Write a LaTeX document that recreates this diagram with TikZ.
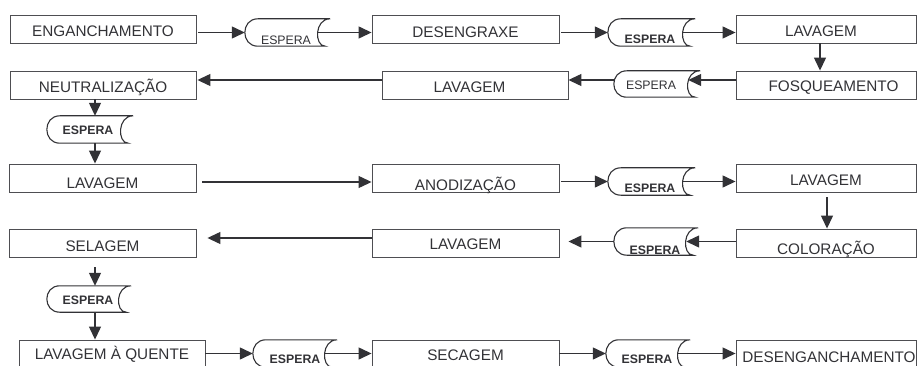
\documentclass[tikz,border=0pt]{standalone}
\usepackage{fontspec}
\setmainfont{Liberation Sans}
\usetikzlibrary{arrows.meta,calc}
\definecolor{ink}{RGB}{50,50,54}
\definecolor{rim}{RGB}{78,78,82}
\tikzset{
  stage/.style={draw=rim, line width=0.9pt, minimum width=#1, minimum height=28pt,
    inner sep=0pt, text=ink, font=\fontsize{15.3}{18}\selectfont, text depth=0pt},
  cap/.style={text height=#1},
  wait/.style={minimum width=#1, inner sep=0pt, text=ink,
    font=\fontsize{12.3}{14}\selectfont\bfseries, text depth=0pt},
  thin/.style={font=\fontsize{12.3}{14}\selectfont},
  waitrim/.style={draw=ink, line width=1.1pt},
  flow/.style={draw=ink, line width=1.3pt, -{Triangle[length=13pt,width=12pt]}}
}
\begin{document}
\begin{tikzpicture}[x=1pt,y=-1pt]
\useasboundingbox (0,0) rectangle (917,366);
\clip (0,0) rectangle (917,366);

% process stages
\node[stage=186, cap=15.3pt] (b1)  at (103,29)    {ENGANCHAMENTO};
\node[stage=187, cap=16.7pt] (b2)  at (465.5,29)  {DESENGRAXE};
\node[stage=180, cap=15.7pt] (b3)  at (826,29)    {LAVAGEM\hspace*{10pt}};
\node[stage=180, cap=13.7pt] (b4)  at (826,85)    {\hspace*{15pt}FOSQUEAMENTO};
\node[stage=186, cap=14.7pt] (b5)  at (475,85)    {LAVAGEM\hspace*{11pt}};
\node[stage=186, cap=15.1pt] (b6)  at (103,85)    {NEUTRALIZAÇÃO};
\node[stage=187, cap=21.7pt] (b7)  at (102.5,178) {LAVAGEM};
\node[stage=187, cap=24.7pt] (b8)  at (465.5,178) {ANODIZAÇÃO};
\node[stage=180, cap=14.7pt] (b9)  at (826,178)   {LAVAGEM};
\node[stage=180, cap=23.7pt] (b10) at (826,243)   {COLORAÇÃO};
\node[stage=187, cap=13.7pt] (b11) at (465.5,243) {LAVAGEM};
\node[stage=187, cap=16.7pt] (b12) at (102.5,243) {SELAGEM};
\node[stage=186, cap=10.7pt] (b13) at (112,354)   {LAVAGEM À QUENTE};
\node[stage=187, cap=12.7pt] (b14) at (465.5,354) {SECAGEM};
\node[stage=180, cap=16.7pt] (b15) at (826,354)   {\hspace*{6pt}DESENGANCHAMENTO};

% waiting steps (node box runs from the left edge to the inner point of the concave side)
\node[wait=73, minimum height=27pt, thin, cap=23.6pt] (e1) at (281.5,32.5) {\hspace*{9pt}ESPERA};
\node[wait=75, minimum height=27pt, cap=23pt]         (e2) at (645.5,32.5) {\hspace*{9pt}ESPERA};
\node[wait=74, minimum height=26pt, thin, cap=11pt]   (e3) at (651,84)     {ESPERA};
\node[wait=74, minimum height=27pt, cap=9.6pt]        (e4) at (84,129.5)   {\hspace*{8pt}ESPERA};
\node[wait=75, minimum height=27pt, cap=21.2pt]       (e5) at (645.5,181.5){\hspace*{9pt}ESPERA};
\node[wait=72, minimum height=27pt, cap=25pt]         (e6) at (650,241.5)  {\hspace*{10pt}ESPERA};
\node[wait=72, minimum height=26pt, cap=10.6pt]       (e7) at (83,299)     {\hspace*{10pt}ESPERA};
\node[wait=72, minimum height=27pt, cap=20.6pt]       (e8) at (289,353.5)  {\hspace*{12pt}ESPERA};
\node[wait=72, minimum height=27pt, cap=20.6pt]       (e9) at (642,353.5)  {\hspace*{10pt}ESPERA};

% outline of each waiting step: convex left side, concave right side
\foreach \n in {e1,e2,e3,e4,e5,e6,e7,e8,e9}{
  \draw[waitrim] ($(\n.north west)+(13,0)$) -- ($(\n.north east)+(12,0)$)
    .. controls ($(\n.north east)+(-4,0)$) and ($(\n.south east)+(-4,0)$) .. ($(\n.south east)+(7,0)$)
    -- ($(\n.south west)+(13,0)$)
    .. controls ($(\n.south west)+(-4.3,0)$) and ($(\n.north west)+(-4.3,0)$) .. cycle;
}

% row 1
\draw[flow, shorten <=2pt] (b1.east |- e1.west) -- (e1.west);
\draw[flow] (e1.east) -- (e1.east -| b2.west);
\draw[flow, shorten <=2pt] (b2.east |- e2.west) -- (e2.west);
\draw[flow] (e2.east) -- (e2.east -| b3.west);
\draw[flow] ([xshift=-6pt]b3.south) -- ([xshift=-6pt]b3.south |- b4.north);
% row 2
\draw[flow] ([yshift=4pt]b4.west |- e3.east) -- ([yshift=4pt]e3.east);
\draw[flow] ([yshift=4pt]e3.west) -- ([yshift=4pt]e3.west -| b5.east);
\draw[flow, shorten >=1pt] ([yshift=5pt]b5.west) -- ([yshift=5pt]b6.east);
\draw[flow] ([xshift=-8pt]b6.south) -- ([xshift=-8pt]b6.south |- e4.north);
\draw[flow] ([xshift=-8pt]b6.south |- e4.south) -- ([xshift=-7.5pt]b7.north);
% row 3
\draw[flow, shorten <=6pt] ([yshift=-4pt]b7.east) -- ([yshift=-4pt]b8.west);
\draw[flow, shorten <=2pt] (b8.east |- e5.west) -- (e5.west);
\draw[flow] (e5.east) -- (e5.east -| b9.west);
\draw[flow, shorten <=5pt] ([xshift=1pt]b9.south) -- ([xshift=1pt]b9.south |- b10.north);
% row 4
\draw[flow] (b10.west |- e6.east) -- (e6.east);
\draw[flow, shorten >=9pt] (e6.west) -- (e6.west -| b11.east);
\draw[flow, shorten >=11pt] ([yshift=5pt]b11.west) -- ([yshift=5pt]b12.east);
\draw[flow, shorten <=10pt] ([xshift=-7.5pt]b12.south) -- ([xshift=-7.5pt]b12.south |- e7.north);
\draw[flow] ([xshift=-7.5pt]b12.south |- e7.south) -- ([xshift=-7.5pt]b12.south |- b13.north);
% row 5
\draw[flow] (b13.east |- e8.west) -- (e8.west);
\draw[flow] (e8.east) -- (e8.east -| b14.west);
\draw[flow] (b14.east |- e9.west) -- (e9.west);
\draw[flow] (e9.east) -- (e9.east -| b15.west);
\end{tikzpicture}
\end{document}
